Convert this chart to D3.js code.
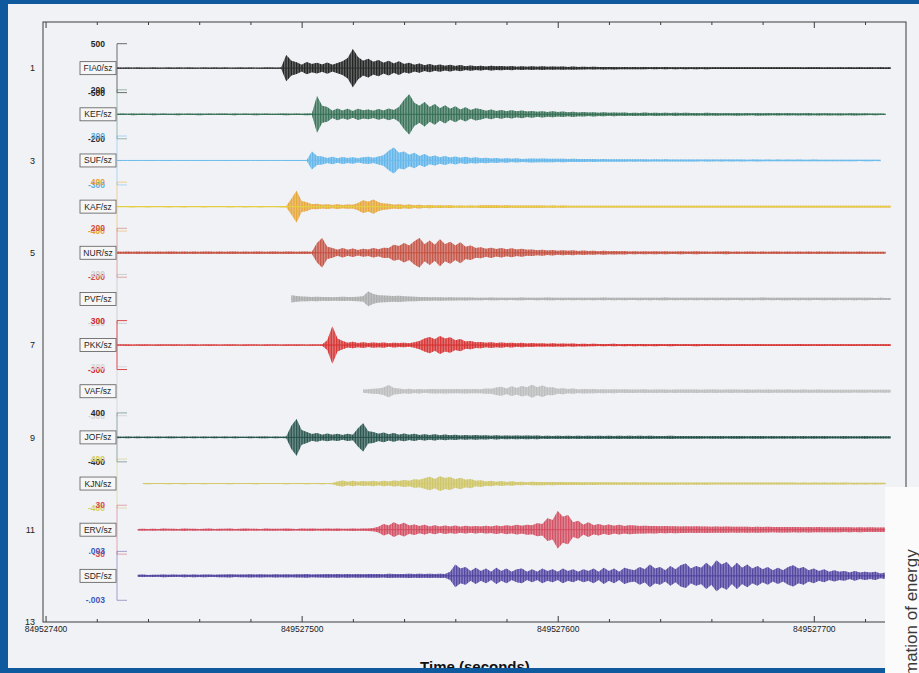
<!DOCTYPE html>
<html>
<head>
<meta charset="utf-8">
<script src="https://cdn.jsdelivr.net/npm/d3@7"></script>
<style>
  html, body { margin: 0; padding: 0; background: #0f5a9e; }
  svg { display: block; }
  text { font-family: "Liberation Sans", Arial, Helvetica, sans-serif; }
</style>
</head>
<body>
<svg id="chart" width="919" height="673"></svg>
<script>
// ---- Data -------------------------------------------------------------
const T0 = 849527400;                 // epoch seconds of the first time tick
const sampleStep = 2;                 // seconds between envelope samples

const stations = ["FIA0/sz", "KEF/sz", "SUF/sz", "KAF/sz", "NUR/sz", "PVF/sz",
                  "PKK/sz", "VAF/sz", "JOF/sz", "KJN/sz", "ERV/sz", "SDF/sz"];

// first sample of each record, seconds after T0
const traceStart = [28, 28, 28, 28, 28, 96, 28, 124, 28, 38, 36, 36];

// full-scale amplitude of each trace (counts)
const scaleMax = [500, 200, 300, 400, 200, 200, 300, 300, 400, 400, 30, 0.003];

// peak amplitude envelope (counts) every 2 s
const ampFIA0 = [11,
  10,12,9,11,10,8,12,10,9,11, 10,11,9,12,10,9,11,10,12,10, 11,9,10,12,10,11,9,10,12,11,
  10,12,270,150,120,70,125,85,110,75, 115,70,105,140,210,390,230,150,190,130,
  165,110,150,95,140,85,110,70,95,60, 85,55,75,50,70,45,62,40,55,38,
  50,35,48,38,44,32,42,30,38,28, 40,30,38,28,35,27,34,26,32,25,
  28,24,27,23,26,22,25,21,24,20, 24,20,23,19,22,19,22,18,21,18,
  21,18,20,17,20,18,19,17,19,17, 19,17,18,16,18,17,18,16,18,16,
  18,16,17,15,17,16,17,15,17,15, 17,15,16,15,17,15,16,14,16,15, 16];

const ampKEF = [5,
  6,4,7,5,6,4,7,5,6,5, 5,7,4,6,5,7,5,6,4,6, 6,5,7,4,6,5,7,5,6,5,
  5,6,7,5,6,5,7,6,150,70, 60,30,48,32,45,28,46,34,40,30,
  44,32,48,35,60,120,165,95,70,100, 60,85,50,75,45,65,40,58,35,50,
  42,30,40,28,36,26,34,24,32,22, 28,20,26,19,24,18,22,16,21,15,
  18,14,17,13,16,12,15,12,14,11, 13,11,14,10,13,11,12,10,13,10,
  12,10,11,9,12,10,11,9,10,9, 11,9,10,8,11,9,10,8,10,8,
  10,8,9,8,10,7,9,8,9,7, 9,7,8,9,7,8,6,7,6,5];

const ampSUF = [5,
  5,4,6,5,4,6,5,4,5,6, 4,5,6,4,5,5,6,4,5,4, 6,5,4,5,6,4,5,6,5,4,
  5,4,6,5,6,5,7,110,55,50, 30,45,28,42,30,40,26,38,44,32,
  50,65,120,160,95,110,70,95,55,80, 45,62,40,55,35,50,32,44,30,38,
  28,34,24,30,22,28,20,26,18,22, 24,22,23,21,22,20,21,19,20,18,
  18,17,18,16,17,16,15,16,15,14, 15,14,15,13,14,13,14,12,13,12,
  13,12,13,11,12,12,11,12,11,12, 11,12,10,11,12,10,11,10,11,10,
  11,10,11,9,10,11,9,10,9,10, 9,10,9,10,8,9,10,8,9];

const ampKAF = [8,
  8,7,9,8,7,9,8,7,8,9, 7,8,9,7,8,8,9,7,8,7, 8,9,7,8,9,7,8,9,8,7,
  8,9,10,130,260,90,70,40,45,30, 38,28,40,26,36,30,60,105,80,115,
  70,50,45,30,40,26,34,22,30,20, 26,20,24,18,22,16,20,15,19,14,
  22,23,21,22,20,21,19,20,19,18, 18,17,18,16,17,16,17,15,16,15,
  15,16,14,15,16,14,15,14,15,16, 14,15,16,14,15,14,16,15,14,15,
  15,14,15,16,14,15,14,15,14,16, 14,15,14,16,15,14,15,14,15,14,
  15,14,16,14,15,14,15,16,14,15, 14,15,14,15,14,16,14,15,14,15, 14];

const ampNUR = [10,
  9,10,8,11,9,10,8,10,9,11, 10,9,11,8,10,9,10,11,9,10, 9,11,10,9,10,8,11,10,9,10,
  10,9,11,10,9,10,11,9,80,120, 50,40,25,38,24,35,22,32,26,38,
  28,42,40,65,55,80,60,95,120,70, 100,65,110,70,90,60,85,50,60,40,
  45,32,42,30,38,28,36,26,32,24, 26,20,24,18,22,17,21,16,20,15,
  18,14,17,13,16,12,15,12,14,11, 13,11,12,10,13,11,12,10,11,12,
  11,10,12,10,11,9,11,10,12,9, 11,9,10,11,9,10,8,10,11,9,
  10,9,11,9,10,8,10,9,10,8, 9,10,8,9,10,8,9,8,9,8];

const ampPVF = [
  30,24,20,18,16,18,15, 16,14,15,17,15,16,18,22,60,40,
  30,28,26,24,25,22,20,18,16,15, 14,13,14,12,13,12,11,12,11,10,
  10,9,11,10,9,10,9,10,11,9, 9,10,9,11,10,9,10,9,10,9,
  10,9,10,9,11,9,10,9,10,9, 9,10,9,10,9,10,11,9,10,9,
  10,9,10,9,10,9,10,9,10,9, 9,10,9,10,9,11,9,10,9,10,
  10,9,10,9,10,9,9,10,9,10, 9,10,9,10,9,10,9,8,9,8, 8];

const ampPKK = [6,
  6,7,5,6,7,6,5,7,6,6, 7,6,5,6,7,5,6,7,6,5, 6,7,6,5,7,6,6,5,7,6,
  6,5,7,6,7,6,5,7,6,8, 60,230,80,50,30,40,26,36,24,32,
  26,32,22,30,24,28,22,34,50,80, 100,70,110,80,95,60,75,45,50,35,
  38,28,35,26,32,24,30,22,28,20, 24,18,22,17,21,16,20,15,19,14,
  16,13,15,12,14,12,15,11,14,12, 13,12,14,11,13,12,11,13,12,11,
  12,11,13,10,12,11,10,12,11,10, 11,12,10,11,12,10,11,10,11,10,
  11,10,12,10,11,9,11,10,9,10, 10,9,11,10,9,10,9,10,9,10, 10];

const ampVAF = [
  20,25,30, 35,45,75,40,35,25,30,22,28,20, 26,28,25,27,24,26,25,27,24,26,
  24,32,30,45,55,35,60,40,65,50, 80,50,70,45,50,30,38,26,32,22,
  28,24,26,22,25,21,24,20,23,21, 22,20,23,19,22,20,21,19,22,20,
  21,20,22,19,21,20,22,19,20,21, 20,19,21,18,20,19,21,18,20,19,
  20,18,19,20,18,19,20,18,19,18, 19,18,19,17,18,19,17,18,17,18, 17];

const ampJOF = [13,
  12,14,11,13,12,14,11,13,12,13, 14,12,13,11,14,12,13,12,14,11, 13,12,14,12,11,13,12,14,13,12,
  13,12,14,190,300,120,90,55,70,45, 65,45,60,40,58,45,150,230,100,90,
  60,80,50,70,45,65,42,58,38,52, 40,50,36,46,34,44,32,40,30,38,
  30,36,28,34,27,32,26,31,25,30, 25,29,24,28,23,27,22,27,23,26,
  24,27,22,26,23,25,21,26,22,25, 22,26,21,25,22,24,21,25,22,23,
  21,24,22,23,20,24,21,23,20,22, 21,23,20,22,21,23,20,22,19,22,
  20,22,19,21,20,22,19,21,19,20, 19,21,18,20,19,21,18,20,18,19, 19];

const ampKJN = [
  8,10,7,9,8,10, 9,8,10,7,9,8,10,9,8,9, 8,10,9,7,9,8,10,8,9,8,
  9,8,10,9,8,9,10,8,9,10, 9,10,35,50,30,45,28,40,32,44,
  30,45,34,50,40,58,45,70,60,85, 110,75,120,90,105,70,95,60,75,45,
  55,35,45,30,40,26,36,24,30,20, 28,26,27,25,26,24,25,23,24,22,
  22,21,22,20,21,20,21,19,20,19, 20,19,20,18,19,18,19,18,19,17,
  18,17,18,17,18,16,17,16,17,16, 17,16,17,15,16,15,16,15,16,15,
  15,16,14,15,14,15,14,15,14,15, 14,15,13,14,13,14,13,14,13,12];

const ampERV = [
  1.0,1.3,0.9,1.2,1.0,1.4,1.1,
  1.2,1.0,1.5,1.1,1.3,0.9,1.2,1.4,1.0,1.3, 1.1,1.4,1.0,1.2,1.5,1.1,1.3,1.0,1.4,1.2,
  1.3,1.1,1.5,1.2,1.0,1.4,1.2,1.6,1.1,1.3, 1.4,1.2,1.5,1.1,1.3,1.6,1.2,1.4,1.5,2.0,
  3.5,7,5,9,6,8.5,5,6.5,4.5,6, 4,5.5,3.8,5.2,4,5,3.6,4.8,3.9,4.6,
  3.8,4.8,4,5.2,4.2,5.5,4.4,6,4.8,6.2, 5.5,8,7,14,12,23,16,18,9,11,
  6,9,5.5,7,5,6.5,4.8,6,4.6,5.5, 5,4.6,4.8,4.4,4.6,4.2,4.5,4.1,4.3,4,
  4.2,3.9,4.1,3.8,4,3.7,3.9,3.6,3.8,3.5, 3.7,3.5,3.6,3.4,3.6,3.3,3.5,3.2,3.4,3.3,
  3.4,3.2,3.3,3.1,3.3,3,3.2,3,3.1,3, 3.1,2.9,3,2.8,3,2.8,2.9,2.7,2.8,2.7, 2.8,2.6];

const ampSDF = [
  .00012,.00015,.0001,.00014,.00012,.00016,.00013,
  .00015,.00012,.00017,.00014,.00016,.00013,.00018,.00015,.00014,.00017,
  .00016,.00019,.00015,.00018,.00016,.0002,.00017,.00019,.00016,.00018,
  .0002,.00017,.00021,.00018,.0002,.00019,.00022,.00018,.00021,.0002,
  .00022,.00019,.00023,.0002,.00022,.00021,.00024,.0002,.00023,.00022,
  .00024,.00021,.00025,.00022,.00024,.00023,.00026,.00022,.00025,.00024,
  .00026,.00023,.00027,.00024,.0005,.0014,.0009,.0011,.0006,.001,
  .0006,.0009,.0005,.001,.0006,.0009,.0005,.0008,.0009,.0005,
  .0008,.0005,.0009,.0006,.0008,.0005,.0009,.0006,.0008,.0005,
  .0008,.0006,.0009,.0005,.001,.0006,.0009,.0005,.001,.0008,
  .0007,.0011,.0008,.0014,.0009,.0011,.0007,.0012,.0008,.0013,
  .0015,.0009,.0012,.001,.0016,.0011,.0019,.0014,.0017,.001,
  .0016,.001,.0014,.0009,.0012,.0008,.0011,.0007,.001,.0007,
  .0011,.0013,.0009,.0011,.0007,.0009,.0006,.0008,.0005,.0007,
  .0005,.0006,.0004,.0006,.0004,.0005,.0004,.0005,.0003,.0004];

const amplitudes = [ampFIA0, ampKEF, ampSUF, ampKAF, ampNUR, ampPVF,
                    ampPKK, ampVAF, ampJOF, ampKJN, ampERV, ampSDF];

const traceColors = ["#141414", "#2f6b4f", "#58b2ea", "#e8a22c", "#c44d3c", "#a6a6a6",
                     "#d62a2a", "#b9b9b9", "#1f4d46", "#cdc25c", "#d2465a", "#4a3c9c"];
const baseColors  = ["#2a2a2a", "#2f6b4f", "#6cbcec", "#e4cf3e", "#c44d3c", "#b4b4b4",
                     "#d62a2a", "#c4c4c4", "#1f4d46", "#d4ca6a", "#d2465a", "#4a3c9c"];
const labelColors = ["#1e1e1e", "#2e2e2e", "#5aaee0", "#e7a132", "#d0503e", "#cfcfcf",
                     "#d42a2a", "#d6d6d6", "#2a2a2a", "#d6cc55", "#d84a55", "#3c58b8"];

const rowTicks = [1, 3, 5, 7, 9, 11, 13];
const majorTicks = [849527400, 849527500, 849527600, 849527700];
const axisTitle = "Time (seconds)";
const pageText = "mation of energy";

// ---- Layout -----------------------------------------------------------
const svg = d3.select("#chart");
const W = 919, H = 673;

const x = d3.scaleLinear().domain([849527399, 849527736]).range([43, 906]);
const y = d3.scaleLinear().domain([0, 13]).range([22, 622]);
const [xl, xr] = x.range();
const [yt, yb] = y.range();
const halfScale = 0.53 * (y(1) - y(0));

// fine vertical hatching gives the envelopes the look of dense oscillation
const defs = svg.append("defs");
traceColors.forEach((c, i) => {
  const p = defs.append("pattern").attr("id", `osc-${i}`)
    .attr("patternUnits", "userSpaceOnUse").attr("width", 1.6).attr("height", 6);
  p.append("rect").attr("width", 0.95).attr("height", 6).attr("fill", c);
});

// slide and paper
svg.append("rect").attr("width", W).attr("height", H).attr("fill", "#0f5a9e");
svg.append("rect").attr("x", 8).attr("y", 4).attr("width", W - 8).attr("height", 664)
   .attr("fill", "#f0f2f6");

// plot frame
svg.append("rect").attr("x", xl).attr("y", yt).attr("width", xr - xl).attr("height", yb - yt)
   .attr("fill", "none").attr("stroke", "#3c3c3c").attr("stroke-width", 1);

// time axes (ticks point inward)
const minorTicks = d3.range(849527420, 849527736, 20).filter(v => !majorTicks.includes(v));
function drawAxis(axisFn, yPos, showLabels) {
  const gMaj = svg.append("g").attr("transform", `translate(0,${yPos})`)
    .call(axisFn(x).tickValues(majorTicks).tickSize(-6).tickPadding(4)
      .tickFormat(showLabels ? d3.format("d") : () => ""));
  const gMin = svg.append("g").attr("transform", `translate(0,${yPos})`)
    .call(axisFn(x).tickValues(minorTicks).tickSize(-3).tickFormat(() => ""));
  [gMaj, gMin].forEach(g => {
    g.select(".domain").remove();
    g.selectAll("line").attr("stroke", "#3c3c3c");
    g.selectAll("text").attr("font-size", 8.5).attr("fill", "#222");
  });
}
drawAxis(d3.axisBottom, yb, true);
drawAxis(d3.axisTop, yt, false);

// row numbers on the left
svg.append("g").selectAll("text").data(rowTicks).join("text")
  .attr("x", 35).attr("y", d => y(d)).attr("dy", "0.35em")
  .attr("text-anchor", "end").attr("font-size", 9).attr("fill", "#222")
  .text(d => d);

const fmtScale = v => String(v).replace(/^(-?)0\./, "$1.");

// ---- Traces -----------------------------------------------------------
stations.forEach((name, i) => {
  const cy = y(i + 1);
  const L = scaleMax[i];
  const amp = d3.scaleLinear().domain([-L, L]).range([cy + halfScale, cy - halfScale]);
  const samples = amplitudes[i].map((a, k) => ({ t: T0 + traceStart[i] + k * sampleStep, a }));

  const g = svg.append("g");

  // amplitude bracket
  const bx = 117;
  g.append("path")
    .attr("d", `M${bx + 10},${amp(L)}H${bx}V${amp(-L)}H${bx + 10}`)
    .attr("fill", "none").attr("stroke", i === 0 ? "#555" : traceColors[i])
    .attr("stroke-opacity", i === 0 || i === 6 ? 0.85 : 0.45).attr("stroke-width", 1);

  // scale labels
  [L, -L].forEach(v => {
    g.append("text").attr("x", 105).attr("y", amp(v)).attr("dy", "0.35em")
      .attr("text-anchor", "end").attr("font-size", 8.5).attr("font-weight", "bold")
      .attr("fill", labelColors[i]).text(fmtScale(v));
  });

  // envelope: wash plus vertical hatching
  const envelope = d3.area().x(d => x(d.t)).y0(d => amp(-d.a)).y1(d => amp(d.a));
  g.append("path").datum(samples).attr("d", envelope)
    .attr("fill", traceColors[i]).attr("fill-opacity", 0.5);
  g.append("path").datum(samples).attr("d", envelope)
    .attr("fill", `url(#osc-${i})`).attr("fill-opacity", 0.95);

  // zero line
  g.append("path").datum(samples)
    .attr("d", d3.line().x(d => x(d.t)).y(() => amp(0)))
    .attr("stroke", baseColors[i]).attr("stroke-width", i === 3 ? 1.3 : 0.9).attr("fill", "none");

  // station label box
  g.append("rect").attr("x", 80).attr("y", cy - 6.5).attr("width", 36).attr("height", 13)
    .attr("fill", "#f6f6f6").attr("stroke", "#5a5a5a").attr("stroke-width", 0.8);
  g.append("text").attr("x", 98).attr("y", cy).attr("dy", "0.35em")
    .attr("text-anchor", "middle").attr("font-size", 8.5).attr("fill", "#1e1e1e")
    .text(name);
});

// axis title
svg.append("text").attr("x", 475).attr("y", 672).attr("text-anchor", "middle")
  .attr("font-size", 15).attr("font-weight", "bold").attr("fill", "#111").text(axisTitle);

// slide border at the bottom
svg.append("rect").attr("x", 0).attr("y", 668).attr("width", W).attr("height", H - 668)
   .attr("fill", "#0f5a9e");

// page insert at the lower right
svg.append("rect").attr("x", 885).attr("y", 487).attr("width", W - 885).attr("height", H - 487)
   .attr("fill", "#fbfbfb");
svg.append("text")
  .attr("transform", "translate(917,676) rotate(-90)")
  .attr("font-family", "'Liberation Serif', 'DejaVu Serif', serif")
  .attr("font-size", 17).attr("fill", "#3a3a3a").text(pageText);
</script>
</body>
</html>
